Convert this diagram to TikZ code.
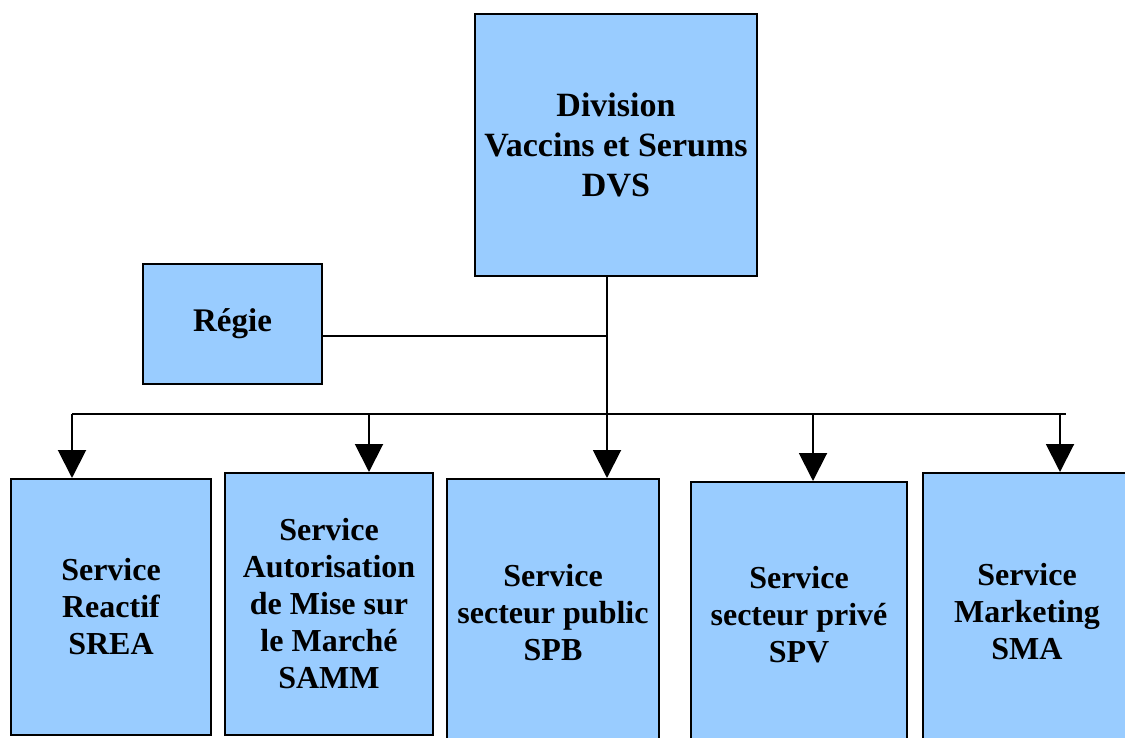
\documentclass[tikz,border=0pt]{standalone}
\usepackage{fontspec}
\setmainfont{Liberation Serif}
\usetikzlibrary{arrows.meta}
\definecolor{boxblue}{HTML}{99CCFF}
\tikzset{
  unit/.style={draw=black, line width=2pt, fill=boxblue, rectangle, inner sep=0pt,
    align=center, font=\bfseries\fontsize{32}{37}\selectfont},
  link/.style={draw=black, line width=2pt},
  down/.style={link, -{Triangle[width=28pt,length=28pt]}}
}
\begin{document}
\begin{tikzpicture}[x=1pt,y=-1pt]
\useasboundingbox (0,0) rectangle (1125,738);
\clip (0,0) rectangle (1125,738);

% top of the hierarchy
\node[unit, minimum width=282pt, minimum height=262pt,
      font=\bfseries\fontsize{34}{40}\selectfont] (dvs) at (616,145)
  {Division\\Vaccins et Serums\\DVS};
\node[unit, minimum width=179pt, minimum height=120pt,
      font=\bfseries\fontsize{33}{38}\selectfont] (regie) at (232.5,324) {Régie};

% services
\node[unit, minimum width=200pt, minimum height=256pt] (srea) at (111,607)
  {Service\\Reactif\\SREA};
\node[unit, minimum width=208pt, minimum height=262pt] (samm) at (329,604)
  {Service\\Autorisation\\de Mise sur\\le Marché\\SAMM};
\node[unit, minimum width=212pt, minimum height=267pt] (spb) at (553,612.5)
  {Service\\secteur public\\SPB};
\node[unit, minimum width=216pt, minimum height=265pt] (spv) at (799,614.5)
  {Service\\secteur privé\\SPV};
\node[unit, minimum width=208pt, minimum height=278pt] (sma) at (1027,612)
  {Service\\Marketing\\SMA};

% junction points of the connectors
\coordinate (rj) at (607,336);
\coordinate (hub) at (607,414);
\coordinate (b1) at (72,414);
\coordinate (b2) at (369,414);
\coordinate (b4) at (813,414);
\coordinate (b5) at (1060,414);
\coordinate (busend) at (1066,414);

% trunk, staff link and distribution bus
\draw[link] (dvs.south -| hub) -- (hub);
\draw[link] (rj -| regie.east) -- (rj);
\draw[link] (b1) -- (busend);

% drops to each service
\draw[down] (b1) -- (b1 |- srea.north);
\draw[down] (b2) -- (b2 |- samm.north);
\draw[down] (hub) -- (hub |- spb.north);
\draw[down] (b4) -- (b4 |- spv.north);
\draw[down] (b5) -- (b5 |- sma.north);
\end{tikzpicture}
\end{document}
